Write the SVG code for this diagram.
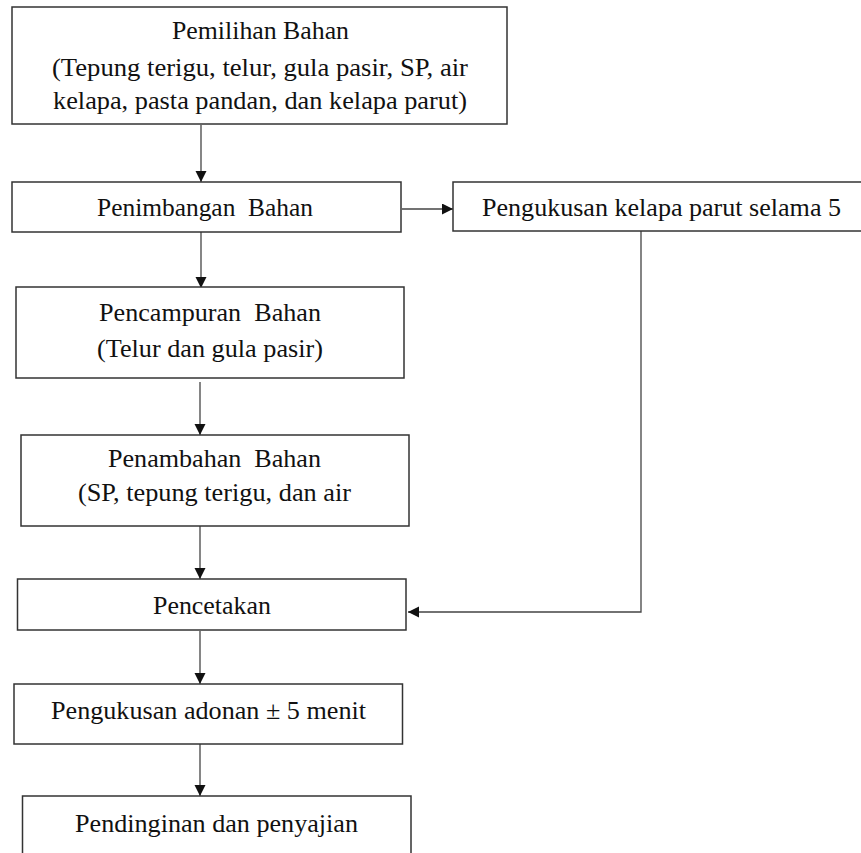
<svg xmlns="http://www.w3.org/2000/svg" width="861" height="853" viewBox="0 0 861 853">
<style>
.box{fill:#fff;stroke:#333;stroke-width:1.5}
.t{font-family:"Liberation Serif","Times New Roman",Times,serif;font-size:25px;fill:#111;white-space:pre}
.c{fill:none;stroke:#444;stroke-width:1.3}
</style>
<defs>
<marker id="ah" markerUnits="userSpaceOnUse" markerWidth="12" markerHeight="12" refX="11" refY="5.5" orient="auto">
<path d="M0,0 L11,5.5 L0,11 z" fill="#111"/>
</marker>
</defs>
<rect width="861" height="853" fill="#fff"/>
<g id="connectors">
<line class="c" x1="201" y1="125" x2="201" y2="182" marker-end="url(#ah)"/>
<line class="c" x1="402" y1="209" x2="453" y2="209" marker-end="url(#ah)"/>
<line class="c" x1="201" y1="232" x2="201" y2="288" marker-end="url(#ah)"/>
<line class="c" x1="200" y1="382" x2="200" y2="435" marker-end="url(#ah)"/>
<line class="c" x1="200" y1="526" x2="200" y2="579" marker-end="url(#ah)"/>
<polyline class="c" points="641,231 641,612 408,612" marker-end="url(#ah)"/>
<line class="c" x1="200" y1="631" x2="200" y2="684" marker-end="url(#ah)"/>
<line class="c" x1="200" y1="743" x2="200" y2="796" marker-end="url(#ah)"/>
</g>
<g id="pemilihan">
<rect class="box" x="12" y="7" width="495" height="117"/>
<text class="t" x="172" y="39" textLength="177" lengthAdjust="spacingAndGlyphs">Pemilihan Bahan</text>
<text class="t" x="52" y="76" textLength="416" lengthAdjust="spacingAndGlyphs">(Tepung terigu, telur, gula pasir, SP, air</text>
<text class="t" x="53" y="109" textLength="414" lengthAdjust="spacingAndGlyphs">kelapa, pasta pandan, dan kelapa parut)</text>
</g>
<g id="penimbangan">
<rect class="box" x="12" y="182" width="389" height="50"/>
<text class="t" x="97" y="216" textLength="216" lengthAdjust="spacingAndGlyphs" xml:space="preserve">Penimbangan  Bahan</text>
</g>
<g id="pengukusan-kelapa">
<rect class="box" x="453" y="182" width="430" height="49"/>
<text class="t" x="482" y="216" textLength="359" lengthAdjust="spacingAndGlyphs">Pengukusan kelapa parut selama 5</text>
</g>
<g id="pencampuran">
<rect class="box" x="16" y="287" width="388" height="91"/>
<text class="t" x="99" y="321" textLength="222" lengthAdjust="spacingAndGlyphs" xml:space="preserve">Pencampuran  Bahan</text>
<text class="t" x="97" y="357" textLength="226" lengthAdjust="spacingAndGlyphs">(Telur dan gula pasir)</text>
</g>
<g id="penambahan">
<rect class="box" x="21" y="435" width="388" height="91"/>
<text class="t" x="108" y="467" textLength="213" lengthAdjust="spacingAndGlyphs" xml:space="preserve">Penambahan  Bahan</text>
<text class="t" x="78" y="501" textLength="273" lengthAdjust="spacingAndGlyphs">(SP, tepung terigu, dan air</text>
</g>
<g id="pencetakan">
<rect class="box" x="17.5" y="579" width="388.5" height="51"/>
<text class="t" x="153" y="614" textLength="118" lengthAdjust="spacingAndGlyphs">Pencetakan</text>
</g>
<g id="pengukusan-adonan">
<rect class="box" x="14" y="684" width="388.5" height="60"/>
<text class="t" x="51" y="719" textLength="315" lengthAdjust="spacingAndGlyphs">Pengukusan adonan ± 5 menit</text>
</g>
<g id="pendinginan">
<rect class="box" x="22.5" y="796" width="388.5" height="80"/>
<text class="t" x="75" y="832" textLength="283" lengthAdjust="spacingAndGlyphs">Pendinginan dan penyajian</text>
</g>
</svg>
